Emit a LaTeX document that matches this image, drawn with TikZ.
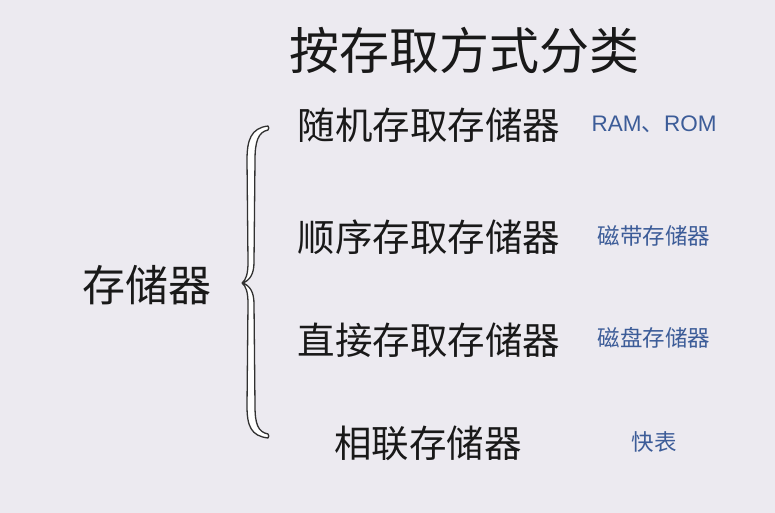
\documentclass[tikz,border=0pt]{standalone}
\usepackage{fontspec}
\setmainfont{Noto Sans CJK SC}
\newfontfamily\latinf{Liberation Sans}
\definecolor{bgc}{RGB}{236,234,240}
\definecolor{txt}{RGB}{25,25,25}
\definecolor{bluet}{RGB}{60,92,152}
\definecolor{brc}{RGB}{50,50,50}
\tikzset{
  main/.style={text=txt, inner sep=0pt, font=\fontsize{37.5}{40}\selectfont},
  sub/.style={text=bluet, inner sep=0pt, font=\fontsize{22.5}{24}\selectfont},
  ttl/.style={text=txt, inner sep=0pt, font=\fontsize{50}{54}\selectfont},
  big/.style={text=txt, inner sep=0pt, font=\fontsize{43}{46}\selectfont}
}
\begin{document}
\begin{tikzpicture}[x=1pt,y=-1pt]
\fill[bgc] (0,0) rectangle (775,513);
\useasboundingbox (0,0) rectangle (775,513);
% brace
\draw[brc, line width=1.3pt, fill=white, line join=round]
  (268,126) .. controls (251,128) and (247,140) .. (247,160)
  -- (248,262) .. controls (248,274) and (246,280) .. (242,283)
  .. controls (246,286) and (248,292) .. (248,304)
  -- (247,406) .. controls (247,426) and (251,436) .. (268,438)
  .. controls (269,437) and (269,435) .. (268,434)
  .. controls (258,432) and (255,424) .. (255,406)
  -- (254,304) .. controls (254,292) and (250,286) .. (243,283)
  .. controls (250,280) and (254,274) .. (254,262)
  -- (255,160) .. controls (255,142) and (258,132) .. (268,130)
  .. controls (269,129) and (269,127) .. (268,126) -- cycle;
\node[ttl] (title) at (464,50) {按存取方式分类};
\node[big] (mem) at (147,285) {存储器};
\node[main] (ram) at (429,125) {随机存取存储器};
\node[main] (sam) at (429,237) {顺序存取存储器};
\node[main] (dam) at (429,340) {直接存取存储器};
\node[main] (cam) at (428,443) {相联存储器};
\node[sub] (s1) at (654,124) {{\latinf RAM}、{\latinf ROM}};
\node[sub] (s2) at (654,236) {磁带存储器};
\node[sub] (s3) at (654,338) {磁盘存储器};
\node[sub] (s4) at (654,442) {快表};
\end{tikzpicture}
\end{document}
